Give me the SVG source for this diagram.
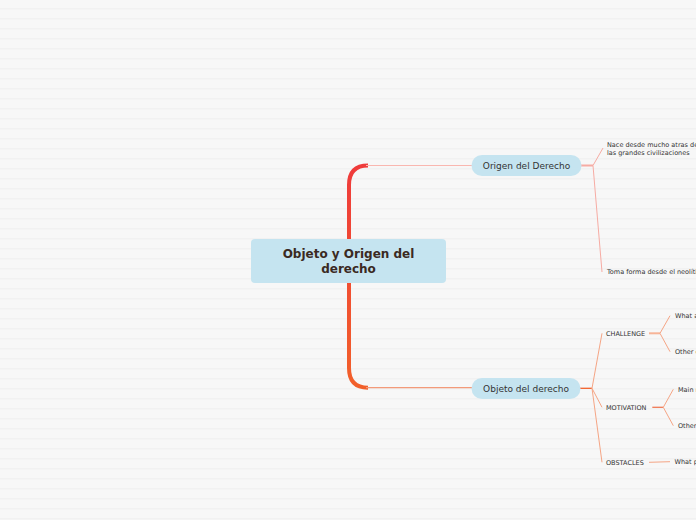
<svg xmlns="http://www.w3.org/2000/svg" width="696" height="520" viewBox="0 0 696 520">
<defs>
<pattern id="stripes" x="0" y="0" width="10" height="10" patternUnits="userSpaceOnUse">
<rect width="10" height="10" fill="#f7f7f7"/>
<rect y="8" width="10" height="1.5" fill="#f1f1f1"/>
</pattern>
<linearGradient id="trunk" x1="0" y1="165" x2="0" y2="388" gradientUnits="userSpaceOnUse">
<stop offset="0" stop-color="#ef3b3b"/>
<stop offset="1" stop-color="#f2602a"/>
</linearGradient>
<style>
.node{fill:#c5e4f0}
.t{font-family:"DejaVu Sans",Verdana,sans-serif;fill:#333}
.main{font-family:"DejaVu Sans",Verdana,sans-serif;font-weight:bold;font-size:12px;fill:#3b2a1f;text-anchor:middle}
.lbl{font-size:9px;text-anchor:middle}
.sm{font-size:6.5px}
.pk{stroke:#f6aba3;fill:none;stroke-width:1}
.or{stroke:#f5a585;fill:none;stroke-width:1}
</style>
</defs>
<rect width="696" height="520" fill="url(#stripes)"/>
<g id="connectors">
<path d="M368,165.5 Q349,165.5 349,185 L349,368 Q349,387.7 368,387.7" fill="none" stroke="url(#trunk)" stroke-width="4"/>
<path d="M366,165.5 L472,165.5" stroke="#f9b7b0" stroke-width="1.2" fill="none"/>
<path d="M366,387.7 L472,387.7" stroke="#f39a7a" stroke-width="1.2" fill="none"/>
<path d="M581,165.5 L593,165.5" stroke="#f6aba3" stroke-width="2" fill="none"/>
<path class="pk" d="M603,148 L593,165.5 L602,272"/>
<path d="M580,388.3 L592,388.3" stroke="#f2602a" stroke-width="1.3" fill="none"/>
<path class="or" d="M602,333.3 L592,388.3 L602,407.3"/>
<path class="or" d="M592,388.3 L602,462.3"/>
<path d="M649,333.3 L660,333.3" stroke="#f7b497" stroke-width="2" fill="none"/>
<path class="or" d="M670,315.7 L660,333.3 L670,351.7"/>
<path d="M652.3,407.3 L663.3,407.3" stroke="#f07a55" stroke-width="1.3" fill="none"/>
<path class="or" d="M673.3,389.3 L663.3,407.3 L673.3,425.7"/>
<path class="or" d="M649,462.3 L670,461.7"/>
</g>
<g id="central">
<rect class="node" x="251" y="239" width="195" height="44" rx="4"/>
<text class="main" x="348.5" y="258.3">Objeto y Origen del</text>
<text class="main" x="348.5" y="272.8">derecho</text>
</g>
<g id="origen">
<rect class="node" x="471.5" y="155" width="110" height="21" rx="10.5"/>
<text class="t lbl" x="526.5" y="168.8">Origen del Derecho</text>
</g>
<g id="objeto">
<rect class="node" x="471.5" y="378" width="109" height="21" rx="10.5"/>
<text class="t lbl" x="526" y="391.6">Objeto del derecho</text>
</g>
<g id="nace">
<text class="t sm" x="607" y="147.3">Nace desde mucho atras de</text>
<text class="t sm" x="607" y="155">las grandes civilizaciones</text>
</g>
<g id="toma">
<text class="t sm" x="607" y="274.2">Toma forma desde el neolítico</text>
</g>
<g id="challenge">
<text class="t sm" x="606" y="335.6">CHALLENGE</text>
</g>
<g id="motivation">
<text class="t sm" x="606" y="409.6">MOTIVATION</text>
</g>
<g id="obstacles">
<text class="t sm" x="606" y="464.6">OBSTACLES</text>
</g>
<g id="challenge-1"><text class="t sm" x="675" y="318.3">What are the challenges?</text></g>
<g id="challenge-2"><text class="t sm" x="675" y="354.2">Other challenges</text></g>
<g id="motivation-1"><text class="t sm" x="678" y="392">Main motivation</text></g>
<g id="motivation-2"><text class="t sm" x="678" y="428.2">Other motivations</text></g>
<g id="obstacles-1"><text class="t sm" x="674.5" y="464.2">What prevents you?</text></g>
</svg>
